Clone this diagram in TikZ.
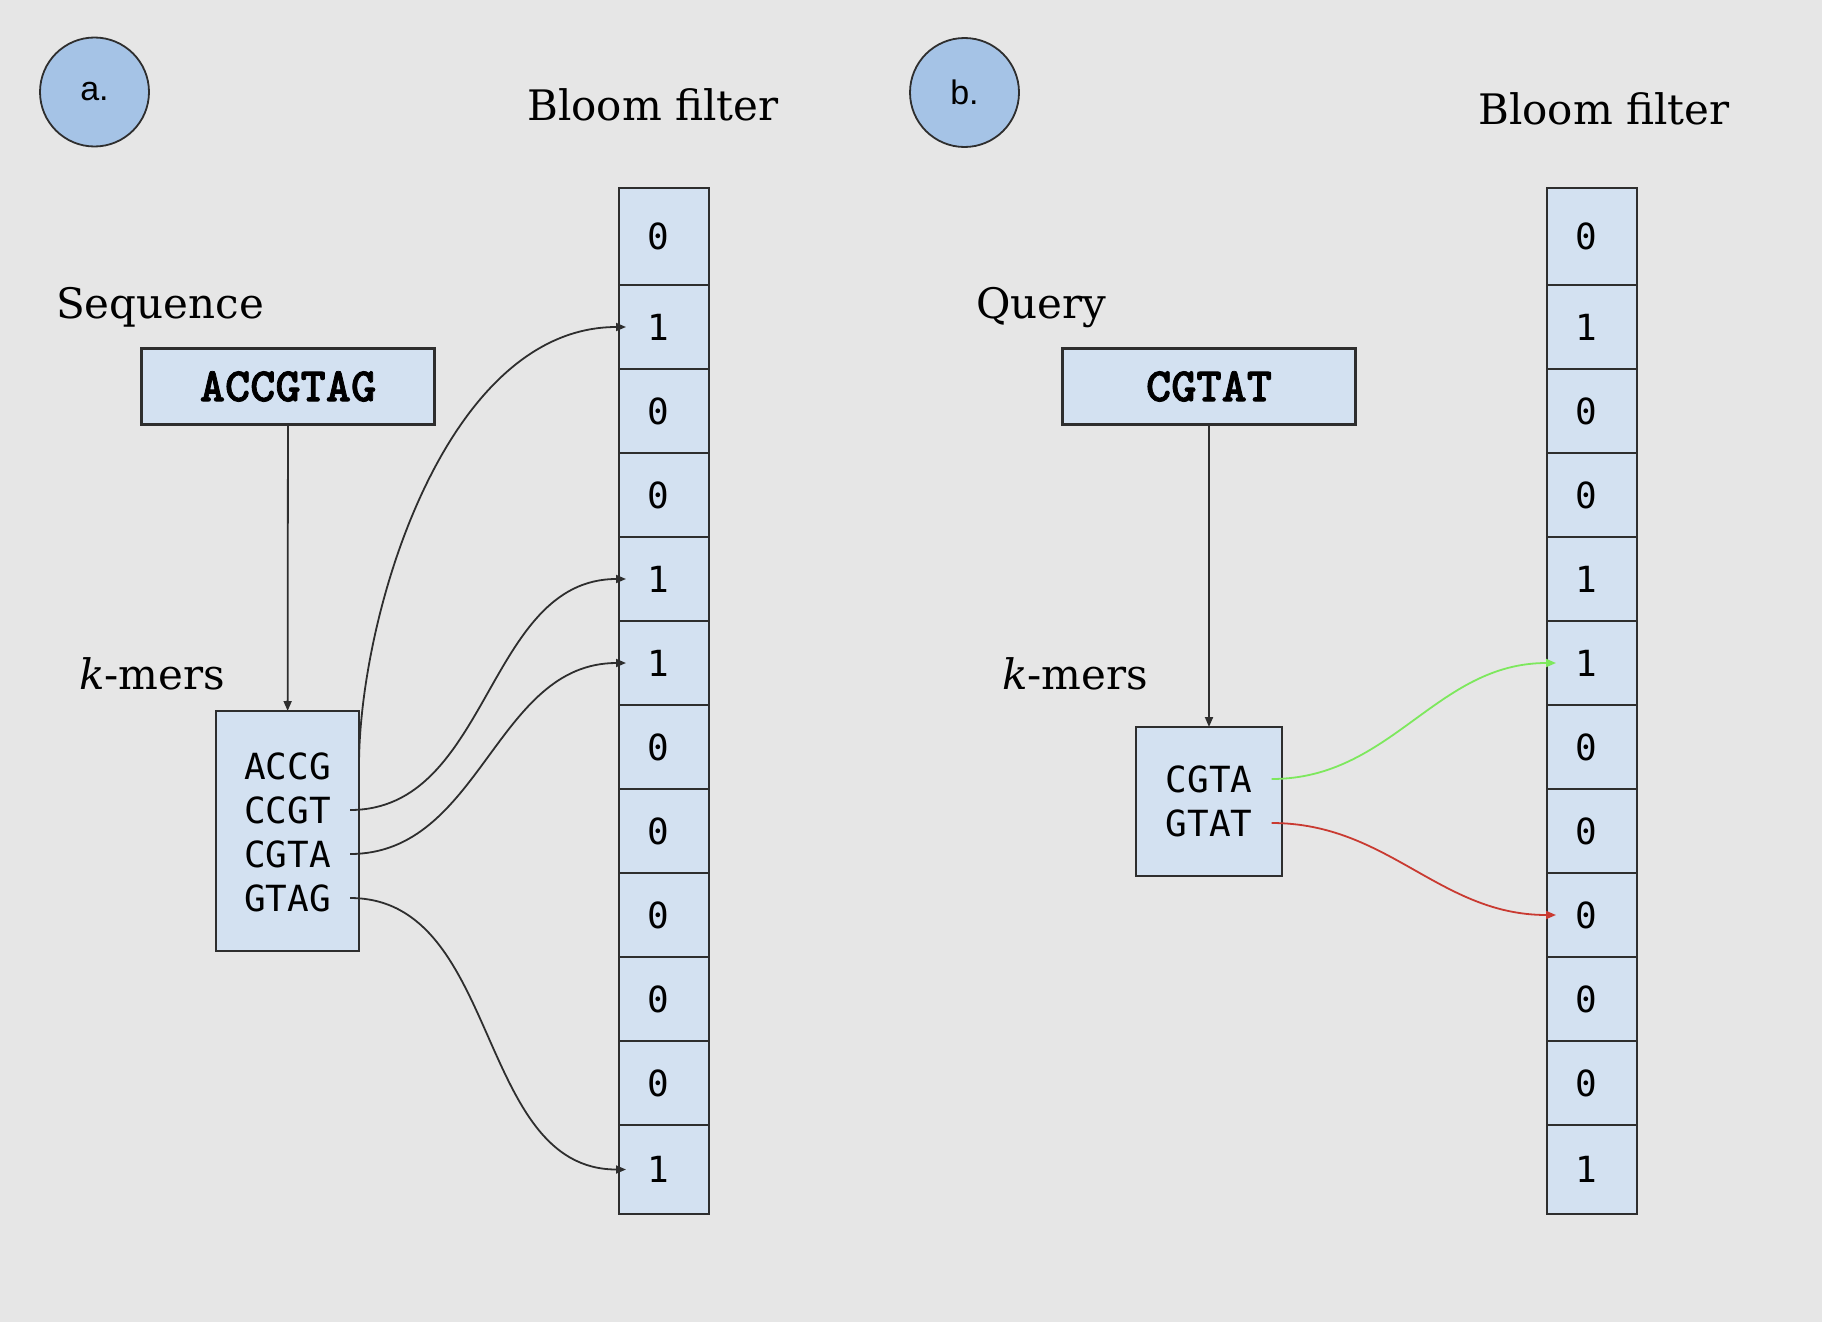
\documentclass[tikz,border=0pt]{standalone}
\usepackage{fontspec}
\usepackage{tikz}
\usetikzlibrary{arrows.meta,positioning}
\newfontfamily\cellfont{DejaVu Sans Mono}
\newfontfamily\labelfont{DejaVu Serif}
\newfontfamily\tagfont{Liberation Sans}
\newfontfamily\seqfont{lmmonolt10-bold.otf}[FakeBold=1.6]
\definecolor{BgGray}{HTML}{E6E6E6}
\definecolor{BoxBlue}{HTML}{D3E1F1}
\definecolor{TagBlue}{HTML}{A5C3E6}
\definecolor{LineGray}{HTML}{2E2E2E}
\definecolor{HitGreen}{HTML}{7DE85D}
\definecolor{MissRed}{HTML}{C93A31}
\tikzset{
  TG/.style={circle,draw=LineGray,line width=1.8pt,fill=TagBlue,
             minimum size=109pt,inner sep=0pt,
             font=\tagfont\fontsize{34}{40}\selectfont},
  LB/.style={anchor=base west,inner sep=0pt,
             font=\labelfont\fontsize{42}{50}\selectfont},
  BX/.style={rectangle,draw=LineGray,line width=2.2pt,fill=BoxBlue,outer sep=0pt},
  SQ/.style={BX,minimum width=293pt,minimum height=76pt,
             font=\seqfont\fontsize{48}{56}\selectfont},
  KM/.style={inner xsep=19pt,inner ysep=0pt,
             font=\cellfont\fontsize{36}{42}\selectfont},
  CL/.style={BX,minimum width=90pt,minimum height=84pt,
             execute at begin node=\hspace*{-12pt},
             font=\cellfont\fontsize{36}{42}\selectfont},
  arr/.style={-{Triangle[length=10pt,width=8pt]},line width=1.8pt,draw=LineGray},
  arrG/.style={arr,draw=HitGreen,-{Triangle[length=10pt,width=8pt,fill=HitGreen]}},
  arrR/.style={arr,draw=MissRed,-{Triangle[length=10pt,width=8pt,fill=MissRed]}}
}

\begin{document}
\begin{tikzpicture}[x=1pt,y=-1pt]
  \fill[BgGray] (0,0) rectangle (1822,1322);

  % a. building the filter
  \node[TG] (tagA) at (94.5,92) {a.};
  \node[LB] (bfA) at (527,120) {Bloom filter};
  \node[LB] (seqLbl) at (56,318) {Sequence};
  \node[SQ] (seqA) at (288,386.5) {ACCGTAG};
  \node[LB] (kmA) at (79,689) {\textit{k}-mers};
  \node[BX,minimum width=143pt,minimum height=240pt] (kbA) at (287.5,831) {};
  \node[KM] (kA1) at (287.5,766) {ACCG};
  \node[KM] (kA2) at (287.5,810) {CCGT};
  \node[KM] (kA3) at (287.5,854) {CGTA};
  \node[KM] (kA4) at (287.5,898) {GTAG};

  \node[CL,minimum height=97pt,anchor=north] (cA1) at (664,188) {0};
  \foreach \v [count=\i from 2] in {1,0,0,1,1,0,0,0,0,0,1} {
    \pgfmathtruncatemacro\p{\i-1}
    \pgfmathsetmacro\h{\i==12 ? 89 : 84}
    \node[CL,minimum height=\h pt,below=0pt of cA\p] (cA\i) {\v};
  }

  \draw[arr](seqA)--(kbA);
  \draw[arr](kbA.east |- kA1) to[out=90,in=180,out looseness=0.75,in looseness=0.9] ([xshift=7pt]cA2.west);
  \draw[arr](kA2.east) to[out=0,in=180] ([xshift=7pt]cA5.west);
  \draw[arr](kA3.east) to[out=0,in=180] ([xshift=7pt]cA6.west);
  \draw[arr](kA4.east) to[out=0,in=180] ([xshift=7pt]cA12.west);

  % b. querying the filter
  \node[TG] (tagB) at (964.5,92.5) {b.};
  \node[LB] (bfB) at (1478,124) {Bloom filter};
  \node[LB] (qLbl) at (976,318) {Query};
  \node[SQ] (seqB) at (1209,386.5) {CGTAT};
  \node[LB] (kmB) at (1002,689) {\textit{k}-mers};
  \node[BX,minimum width=146pt,minimum height=149pt] (kbB) at (1209,801.5) {};
  \node[KM] (kB1) at (1209,779) {CGTA};
  \node[KM] (kB2) at (1209,823) {GTAT};

  \node[CL,minimum height=97pt,anchor=north] (cB1) at (1592,188) {0};
  \foreach \v [count=\i from 2] in {1,0,0,1,1,0,0,0,0,0,1} {
    \pgfmathtruncatemacro\p{\i-1}
    \pgfmathsetmacro\h{\i==12 ? 89 : 84}
    \node[CL,minimum height=\h pt,below=0pt of cB\p] (cB\i) {\v};
  }

  \draw[arr](seqB)--(kbB);
  \draw[arrG](kB1.east) to[out=0,in=180] ([xshift=9pt]cB6.west);
  \draw[arrR](kB2.east) to[out=0,in=180] ([xshift=9pt]cB9.west);
\end{tikzpicture}
\end{document}
